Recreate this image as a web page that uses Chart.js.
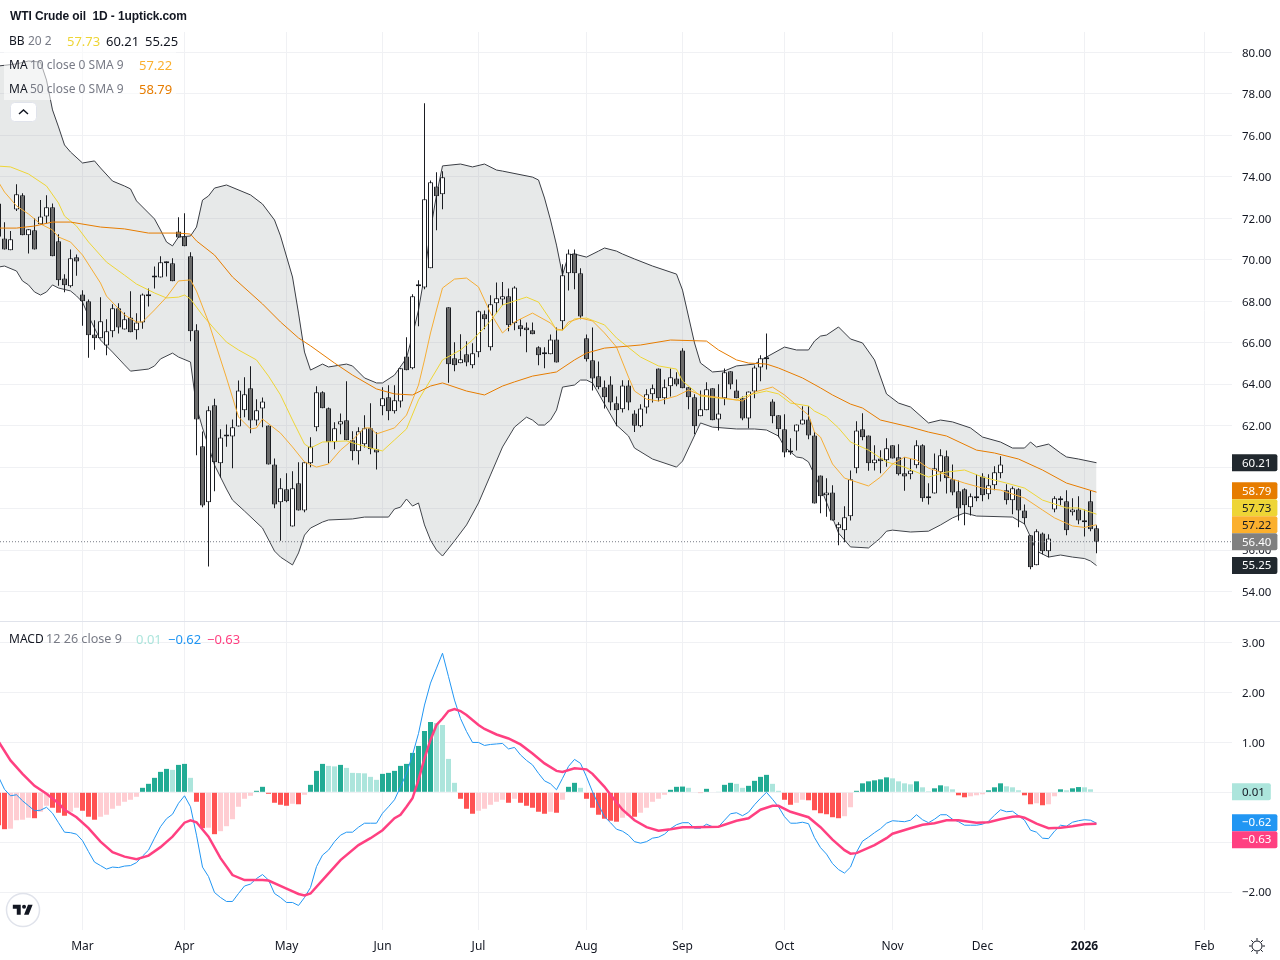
<!DOCTYPE html>
<html>
<head>
<meta charset="utf-8">
<title>WTI Crude oil 1D</title>
<script src="https://cdn.jsdelivr.net/npm/chart.js@4/dist/chart.umd.min.js"></script>
<style>
html,body{margin:0;padding:0;background:#fff;width:1280px;height:960px;overflow:hidden}
body{position:relative;font-family:"Noto Sans",sans-serif;font-size:12px;color:#131722}
canvas{position:absolute;left:0}
.t{position:absolute;white-space:nowrap;line-height:16px}
.g{color:#787b86}
.v{font-size:13px}
</style>
</head>
<body>
<canvas id="priceChart" width="1280" height="621" style="top:0"></canvas>
<canvas id="macdChart" width="1280" height="338" style="top:622px"></canvas>
<div style="position:absolute;left:0;top:621px;width:1280px;height:1px;background:#e0e3eb"></div>
<div style="position:absolute;left:0;top:0;width:1232px;height:32px;background:#fff"></div>
<div style="position:absolute;left:4px;top:32px;width:172px;height:68px;background:rgba(255,255,255,.55)"></div>

<div class="t" style="left:10px;top:8px;font:bold 12px 'Liberation Sans',sans-serif;line-height:16px;letter-spacing:-.1px">WTI Crude oil&nbsp; 1D - 1uptick.com</div>
<div class="t" style="left:9px;top:33px">BB</div><div class="t g" style="left:28px;top:33px">20 2</div>
<div class="t v" style="left:67px;top:33px;color:#eed536">57.73</div><div class="t v" style="left:106px;top:33px">60.21</div><div class="t v" style="left:145px;top:33px">55.25</div>
<div class="t" style="left:9px;top:57px">MA</div><div class="t g" style="left:30px;top:57px">10 close 0 SMA 9</div>
<div class="t v" style="left:139px;top:57px;color:#fbb02e">57.22</div>
<div class="t" style="left:9px;top:81px">MA</div><div class="t g" style="left:30px;top:81px">50 close 0 SMA 9</div>
<div class="t v" style="left:139px;top:81px;color:#e67c00">58.79</div>
<div class="t" style="left:9px;top:631px">MACD</div><div class="t g" style="left:46px;top:631px;font-size:12.6px">12 26 close 9</div>
<div class="t v" style="left:136px;top:631px;color:#ace5dc">0.01</div><div class="t v" style="left:168px;top:631px;color:#2196f3">−0.62</div><div class="t v" style="left:207px;top:631px;color:#ff4081">−0.63</div>

<svg style="position:absolute;left:10px;top:102px" width="28" height="21"><rect x=".5" y=".5" width="26" height="19" rx="4" fill="#fff" stroke="#e0e3eb"/><path d="M9 12l4.5-4 4.5 4" fill="none" stroke="#131722" stroke-width="1.5"/></svg>
<svg style="position:absolute;left:5px;top:892px" width="36" height="36"><circle cx="18" cy="18" r="16.5" fill="#fff" stroke="#e0e3eb" stroke-width="1.5"/><g transform="translate(6.5,11.5) scale(.66)"><path fill="#131722" d="M14 2H2v6h6v9h6V2Zm12 15h-7l6-15h7l-6 15Zm-7-9a3 3 0 1 0 0-6 3 3 0 0 0 0 6Z"/></g></svg>
<svg style="position:absolute;left:1248px;top:937px" width="18" height="18" fill="none" stroke="#131722"><circle cx="9" cy="9" r="5"/><path d="M9 1v2.5M9 14.5V17M1 9h2.5M14.5 9H17M3.3 3.3l1.8 1.8M12.9 12.9l1.8 1.8M3.3 14.7l1.8-1.8M12.9 5.1l1.8-1.8"/></svg>

<script>
// OHLC per trading day
const opens = [72.72,71.03,70.46,72.43,73.11,71.18,71.42,71.71,72.09,72.53,
70.89,69.10,68.72,70.12,68.33,68.00,66.40,66.21,65.87,66.55,
67.66,66.64,67.22,66.60,66.98,68.33,69.15,69.15,69.88,69.83,
71.37,71.13,70.17,66.60,61.00,58.30,62.98,60.18,61.53,61.48,
61.96,62.74,63.80,62.25,62.83,62.01,60.13,58.30,58.93,57.14,
59.22,57.91,60.18,61.92,63.61,62.84,61.20,62.06,62.26,61.29,
60.76,61.10,61.87,60.86,62.93,63.37,62.69,63.17,65.34,64.77,
68.72,68.67,69.59,73.54,73.16,67.71,65.25,65.01,65.44,64.91,
65.54,67.37,65.78,67.90,68.09,68.24,66.94,66.84,66.74,66.60,
65.78,65.49,65.44,66.16,67.03,69.35,70.31,69.35,66.21,65.15,
64.38,63.85,63.99,63.08,62.79,63.94,62.59,61.97,62.88,63.51,
64.76,63.32,63.90,64.28,65.63,63.85,63.37,62.45,62.74,63.80,
62.30,63.32,64.62,63.70,63.32,62.35,63.65,64.81,65.21,63.17,
62.50,61.82,60.72,61.72,62.06,62.30,61.53,59.60,58.64,58.78,
57.05,56.95,57.63,59.94,61.82,61.53,60.18,60.42,60.33,61.05,
60.47,59.70,59.65,60.09,61.05,58.50,58.73,59.75,60.52,59.41,
58.83,58.93,58.06,58.59,59.55,58.69,59.12,59.70,58.88,58.40,
58.93,57.91,56.71,55.26,56.80,55.94,57.96,58.50,58.35,57.82,57.96,57.43,58.35,57.05];
const closes = [71.11,70.50,70.99,73.16,71.18,71.47,70.50,72.09,72.53,70.17,
69.01,68.77,70.07,69.92,68.00,66.36,66.21,67.03,66.55,67.66,
66.74,67.13,66.50,66.98,68.33,68.24,69.17,69.88,69.83,68.96,
71.08,70.65,66.55,62.30,58.15,62.74,60.23,61.43,61.48,61.92,
63.70,63.51,62.25,62.74,63.17,60.13,58.20,58.98,58.35,58.98,
57.91,60.23,60.99,63.61,62.84,61.20,61.87,62.21,61.29,60.76,
61.73,61.87,60.86,60.71,63.32,62.69,63.22,64.77,64.67,68.24,
68.82,72.92,73.74,73.06,73.98,64.96,64.91,65.20,65.05,65.49,
67.52,67.13,67.85,68.14,68.24,66.84,68.67,66.65,66.60,66.41,
65.39,65.44,66.16,65.05,69.25,70.31,69.35,67.27,65.20,64.28,
63.85,63.37,63.12,62.74,63.94,63.12,62.00,62.83,63.51,63.80,
63.32,63.85,64.33,63.99,63.80,63.37,61.97,62.79,63.75,62.26,
62.59,64.57,63.99,63.32,62.35,63.65,64.81,65.25,65.20,62.45,
61.82,60.71,60.71,62.06,62.30,61.53,58.25,58.59,58.78,57.43,
57.24,57.58,59.41,61.77,61.44,60.18,60.37,60.28,60.91,60.42,
59.65,59.55,59.84,61.05,58.50,58.59,59.94,60.57,59.46,58.78,
58.00,58.16,58.59,58.50,58.64,59.12,59.75,60.13,58.40,58.98,
57.91,57.53,55.17,56.90,55.94,56.56,58.50,58.40,56.95,57.96,57.43,57.34,57.00,56.40];
const highs = [72.72,71.81,71.39,73.64,73.21,71.47,72.00,72.88,73.11,72.72,
71.23,69.30,70.50,70.26,68.53,68.09,67.08,68.19,67.13,67.85,
67.90,67.46,68.48,67.42,68.38,68.62,69.68,70.17,69.92,70.07,
72.05,72.24,70.36,66.89,61.72,62.93,63.30,61.82,62.06,62.30,
64.18,64.33,64.86,63.27,63.36,62.01,60.42,59.46,59.70,59.80,
60.23,60.23,61.44,63.90,63.66,62.88,62.16,62.59,64.14,61.73,
61.92,62.50,63.08,61.68,63.85,63.95,63.95,64.77,66.26,68.34,
69.01,77.55,73.83,74.22,74.27,67.71,66.02,66.41,66.07,65.97,
67.56,67.56,68.29,68.91,68.93,68.62,68.72,67.13,66.98,66.98,
65.83,65.78,66.40,66.74,69.78,70.50,70.50,69.59,66.40,66.74,
65.10,64.18,64.38,63.41,64.19,64.19,62.74,63.03,63.75,63.99,
64.76,64.23,64.76,64.57,65.73,63.85,63.51,63.70,64.09,63.80,
64.00,64.76,64.62,64.23,63.41,63.65,64.90,65.39,66.45,63.27,
62.50,62.55,61.39,62.06,62.93,62.93,61.68,59.60,59.46,59.12,
57.34,58.11,59.84,62.21,62.60,61.53,61.05,60.81,61.39,61.05,
61.10,60.47,60.42,61.29,61.10,59.22,60.66,60.86,60.80,60.13,
59.35,58.98,58.73,59.65,59.70,59.65,60.04,60.52,59.17,59.07,
58.98,58.20,56.71,57.00,56.85,56.76,58.59,58.59,58.88,58.50,58.59,57.96,58.88,57.19];
const lows = [71.11,70.50,70.46,72.35,71.18,70.31,70.50,71.71,71.76,70.17,
68.75,68.43,68.67,69.23,66.82,65.28,65.66,66.21,65.39,66.26,
66.45,66.64,66.50,66.16,66.68,67.75,68.62,69.15,69.20,68.96,
71.08,70.65,66.07,60.57,58.06,55.21,58.83,59.50,60.98,59.94,
61.96,62.40,61.63,62.01,61.92,60.13,58.01,56.45,58.30,57.14,
57.91,57.82,59.99,61.73,62.84,60.18,60.86,61.58,61.29,60.33,
60.13,60.94,60.62,59.89,62.50,62.26,62.59,62.88,64.67,64.72,
66.79,68.58,69.59,71.42,72.44,64.07,64.62,65.01,64.86,64.77,
65.30,66.65,65.63,67.42,67.81,66.55,66.60,66.31,65.54,66.41,
64.91,64.77,65.44,65.05,66.60,68.52,68.58,67.13,65.10,63.69,
63.75,62.83,62.74,61.97,62.64,62.74,61.69,61.92,62.59,63.12,
63.17,63.03,63.41,63.90,63.80,62.79,61.58,62.45,62.74,62.26,
61.77,62.98,63.75,63.32,62.26,61.87,63.32,64.14,64.71,62.11,
61.44,60.47,60.60,60.80,62.06,61.34,58.25,57.77,57.60,57.43,
56.23,56.37,57.42,59.70,61.29,59.83,59.84,59.70,60.02,60.42,
59.60,58.86,59.41,59.94,58.33,58.19,58.73,59.31,58.73,58.64,
57.43,57.19,57.67,58.35,58.35,58.45,58.88,59.46,58.20,57.72,
57.10,57.24,55.07,55.26,55.80,55.65,57.82,58.16,56.71,57.67,57.24,56.65,56.90,55.84];

const bbUpper = [[0,79.35],[3,79.45],[5,79.59],[7,79.54],[8,78.67],[9,77.23],[10,76.41],[11,75.54],[12,75.20],[14,74.67],[16,74.77],[17,74.43],[19,73.80],[21,73.56],[22,73.42],[23,72.84],[25,72.26],[26,71.97],[27,71.44],[28,70.86],[29,70.67],[30,71.10],[32,71.15],[33,71.58],[34,72.88],[35,73.08],[36,73.46],[38,73.61],[42,73.13],[44,72.69],[46,71.92],[47,71.15],[49,69.17],[50,67.43],[51,65.55],[52,64.68],[54,64.97],[55,64.83],[58,64.97],[59,64.88],[61,64.30],[63,64.06],[64,64.06],[66,64.44],[68,65.26],[69,66.37],[70,67.58],[71,69.27],[72,71.44],[73,73.13],[74,74.53],[77,74.62],[79,74.48],[81,74.62],[83,74.33],[84,74.28],[89,73.99],[90,73.85],[91,72.98],[92,71.92],[93,70.71],[94,69.27],[95,70.23],[96,70.28],[98,70.13],[100,70.42],[101,70.57],[103,70.42],[104,70.28],[106,70.04],[109,69.70],[113,69.31],[114,68.54],[116,65.99],[117,65.02],[119,64.59],[121,64.64],[123,64.88],[126,64.97],[128,65.31],[131,65.79],[133,65.65],[135,65.65],[136,66.08],[137,66.32],[138,66.37],[140,66.76],[142,66.18],[144,65.99],[146,65.17],[148,63.53],[150,63.09],[152,62.90],[155,62.13],[157,62.27],[159,62.18],[162,61.89],[164,61.45],[167,61.21],[169,60.92],[171,60.92],[172,61.21],[173,60.97],[175,61.11],[177,60.68],[178,60.49],[180,60.39],[183,60.21]];
const bbLower = [[0,69.65],[1,69.70],[3,69.46],[4,68.98],[5,68.79],[6,68.45],[7,68.30],[8,68.45],[9,68.79],[10,68.64],[12,68.50],[13,68.26],[14,67.96],[15,67.29],[17,66.13],[19,65.55],[21,64.93],[22,64.63],[25,64.73],[26,64.88],[27,65.22],[29,65.50],[30,65.31],[32,65.07],[33,62.90],[34,61.89],[35,61.02],[36,60.10],[38,58.94],[39,58.41],[41,57.88],[44,57.06],[46,55.95],[47,55.66],[48,55.47],[49,55.28],[50,55.86],[51,56.72],[52,57.06],[54,57.35],[55,57.45],[59,57.50],[61,57.59],[65,57.59],[66,57.98],[67,58.07],[68,58.46],[69,58.12],[70,58.27],[71,57.21],[72,56.48],[73,56.00],[74,55.71],[76,56.44],[78,57.21],[80,58.27],[82,59.62],[84,60.97],[86,61.93],[88,62.41],[89,62.27],[90,62.03],[91,62.03],[92,62.27],[93,62.75],[94,63.86],[96,63.96],[97,64.20],[98,64.20],[99,64.06],[103,62.03],[105,61.50],[106,60.92],[109,60.39],[113,60.00],[114,60.29],[117,62.13],[119,61.93],[123,61.84],[126,61.84],[128,61.79],[130,61.50],[131,60.97],[133,60.49],[134,60.44],[135,60.25],[136,59.62],[137,59.04],[140,56.82],[142,56.15],[145,56.10],[147,56.58],[148,56.91],[149,56.96],[152,56.87],[155,56.91],[157,57.21],[159,57.55],[161,57.79],[163,57.64],[169,57.59],[171,57.26],[172,56.63],[173,55.95],[175,55.66],[177,55.76],[179,55.66],[181,55.59],[182,55.47],[183,55.25]];
const bbBasis = [[0,74.52],[2,74.48],[5,74.14],[8,73.56],[10,72.74],[11,72.11],[13,71.63],[15,70.86],[18,69.89],[21,69.26],[23,68.83],[26,68.40],[28,68.16],[30,68.20],[31,68.30],[32,68.11],[34,67.33],[36,66.66],[38,66.03],[40,65.65],[43,65.17],[45,64.39],[47,63.48],[49,62.27],[51,61.11],[52,60.92],[54,61.21],[58,61.26],[62,60.92],[64,60.78],[66,61.31],[68,61.84],[70,63.24],[74,65.17],[77,65.65],[79,66.13],[82,67.05],[84,67.82],[88,68.20],[90,67.96],[92,67.10],[93,66.61],[94,66.61],[96,67.15],[98,67.19],[101,66.86],[103,66.23],[107,65.31],[110,64.88],[113,64.73],[114,64.15],[117,63.43],[120,63.33],[123,63.24],[125,63.48],[128,63.67],[130,63.53],[132,63.09],[135,62.95],[136,62.70],[138,62.42],[140,61.89],[142,61.21],[145,60.82],[148,60.25],[151,60.00],[155,59.52],[158,59.76],[161,59.86],[164,59.52],[168,59.23],[171,58.99],[174,58.41],[178,58.03],[180,58.03],[183,57.73]];
const ma10 = [[0,73.75],[1,73.27],[3,72.60],[5,72.21],[7,71.73],[9,71.44],[10,71.10],[12,70.86],[14,70.23],[17,68.88],[18,68.25],[21,67.34],[23,67.00],[24,67.00],[26,67.58],[28,68.20],[30,68.98],[32,69.03],[33,68.49],[35,67.00],[38,64.30],[40,62.42],[42,61.84],[43,61.89],[44,62.32],[47,61.64],[49,60.97],[51,60.25],[53,60.00],[55,60.15],[57,60.82],[59,61.31],[61,61.89],[62,61.89],[63,61.60],[66,61.89],[68,62.51],[70,63.96],[71,65.17],[72,66.47],[73,67.58],[74,68.64],[76,69.07],[78,69.12],[80,68.69],[82,67.43],[84,66.47],[86,67.00],[89,67.43],[92,66.95],[93,66.66],[94,66.61],[95,67.00],[97,67.19],[99,67.05],[101,66.47],[103,65.79],[105,64.34],[106,63.67],[108,63.28],[110,63.19],[113,63.43],[115,63.72],[117,63.48],[122,63.28],[124,63.19],[126,63.62],[129,63.86],[131,63.48],[133,62.99],[135,62.51],[136,61.69],[137,61.45],[139,60.15],[141,59.47],[143,59.28],[145,59.09],[147,59.52],[149,60.15],[151,60.48],[153,60.34],[155,59.95],[157,59.76],[159,59.42],[161,59.23],[164,58.99],[167,58.89],[171,58.51],[174,57.93],[176,57.55],[179,57.16],[181,57.09],[183,57.22]];
const ma50 = [[0,71.53],[3,71.53],[6,71.63],[9,71.82],[12,71.82],[17,71.58],[21,71.49],[25,71.29],[30,71.29],[32,71.24],[33,70.91],[36,70.23],[39,69.17],[44,67.87],[47,67.00],[50,66.23],[52,65.85],[56,65.02],[59,64.44],[63,63.77],[66,63.53],[69,63.48],[72,63.91],[74,64.06],[78,63.67],[81,63.48],[84,63.91],[86,64.11],[89,64.39],[92,64.54],[93,64.59],[96,65.17],[98,65.50],[101,65.74],[107,65.89],[112,66.13],[118,66.08],[120,65.65],[123,65.17],[125,65.02],[128,64.97],[130,64.78],[134,64.30],[137,63.82],[139,63.48],[142,63.04],[144,62.85],[147,62.27],[152,61.93],[155,61.69],[158,61.50],[163,60.82],[166,60.68],[170,60.39],[174,59.86],[178,59.23],[183,58.79]];

// MACD pane
const macdHist = [-0.66,-0.74,-0.73,-0.56,-0.55,-0.51,-0.52,-0.39,-0.27,-0.31,
-0.41,-0.47,-0.39,-0.31,-0.37,-0.49,-0.55,-0.49,-0.45,-0.33,
-0.27,-0.19,-0.15,-0.09,0.09,0.17,0.29,0.41,0.47,0.45,
0.55,0.57,0.29,-0.19,-0.72,-0.71,-0.84,-0.78,-0.68,-0.54,
-0.29,-0.13,-0.07,0.03,0.11,-0.03,-0.21,-0.25,-0.27,-0.23,
-0.24,-0.05,0.15,0.43,0.57,0.53,0.52,0.55,0.49,0.39,
0.385,0.38,0.31,0.25,0.37,0.39,0.43,0.53,0.57,0.79,
0.93,1.23,1.41,1.39,1.35,0.67,0.19,-0.13,-0.33,-0.43,
-0.37,-0.33,-0.25,-0.19,-0.15,-0.21,-0.13,-0.21,-0.27,-0.31,
-0.39,-0.43,-0.39,-0.41,-0.15,0.11,0.19,0.09,-0.13,-0.31,
-0.45,-0.53,-0.57,-0.59,-0.51,-0.47,-0.49,-0.41,-0.31,-0.19,
-0.13,-0.05,0.05,0.11,0.115,0.09,-0.01,-0.015,0.07,0.01,
0.005,0.15,0.19,0.17,0.09,0.13,0.23,0.31,0.35,0.17,
0.03,-0.15,-0.25,-0.21,-0.15,-0.16,-0.36,-0.42,-0.44,-0.50,
-0.52,-0.48,-0.30,0.03,0.18,0.22,0.24,0.26,0.30,0.28,
0.22,0.18,0.16,0.22,0.10,0.02,0.08,0.14,0.12,0.06,
-0.06,-0.10,-0.08,-0.06,-0.04,0.04,0.10,0.18,0.12,0.10,
0.04,-0.06,-0.24,-0.22,-0.26,-0.24,-0.08,0.06,0.04,0.08,0.105,0.10,0.06,0.01];
const macdLine = [0.31,0.06,-0.07,-0.05,-0.17,-0.27,-0.37,-0.36,-0.30,-0.42,
-0.61,-0.80,-0.81,-0.84,-0.97,-1.19,-1.40,-1.47,-1.54,-1.50,
-1.51,-1.48,-1.47,-1.41,-1.28,-1.16,-0.92,-0.69,-0.53,-0.44,
-0.22,-0.07,-0.29,-0.86,-1.50,-1.69,-2.01,-2.11,-2.19,-2.19,
-2.03,-1.88,-1.84,-1.73,-1.65,-1.76,-2.03,-2.11,-2.21,-2.21,
-2.27,-2.11,-1.91,-1.49,-1.26,-1.16,-0.99,-0.86,-0.80,-0.80,
-0.70,-0.62,-0.62,-0.62,-0.42,-0.29,-0.15,0.11,0.38,0.75,
1.18,1.75,2.19,2.49,2.79,2.32,1.85,1.48,1.22,1.00,
1.00,0.94,0.96,0.97,0.98,0.87,0.90,0.75,0.64,0.55,
0.38,0.23,0.17,0.05,0.28,0.52,0.66,0.58,0.31,0.01,
-0.25,-0.49,-0.61,-0.74,-0.78,-0.86,-0.99,-1.02,-0.99,-0.92,
-0.90,-0.84,-0.73,-0.65,-0.61,-0.61,-0.72,-0.72,-0.64,-0.69,
-0.69,-0.56,-0.43,-0.41,-0.47,-0.40,-0.25,-0.12,0.00,-0.14,
-0.29,-0.49,-0.62,-0.62,-0.60,-0.63,-0.91,-1.11,-1.24,-1.43,
-1.55,-1.62,-1.50,-1.20,-0.98,-0.90,-0.81,-0.73,-0.62,-0.57,
-0.58,-0.59,-0.56,-0.45,-0.55,-0.61,-0.54,-0.45,-0.45,-0.54,
-0.59,-0.66,-0.66,-0.66,-0.64,-0.58,-0.46,-0.35,-0.39,-0.38,
-0.47,-0.56,-0.76,-0.80,-0.92,-0.93,-0.78,-0.66,-0.68,-0.60,-0.57,-0.55,-0.56,-0.62];
const macdSignal = [[0,1.02],[2,0.64],[4,0.37],[6,0.13],[8,-0.03],[10,-0.22],[11,-0.35],[13,-0.50],[15,-0.72],[17,-0.99],[19,-1.20],[21,-1.29],[23,-1.34],[25,-1.27],[27,-1.10],[29,-0.89],[31,-0.61],[32,-0.56],[33,-0.60],[35,-0.89],[37,-1.32],[39,-1.66],[41,-1.76],[44,-1.76],[45,-1.77],[48,-1.93],[50,-2.04],[51,-2.07],[52,-2.03],[54,-1.76],[57,-1.36],[60,-1.06],[62,-0.92],[64,-0.76],[66,-0.52],[67,-0.45],[68,-0.29],[69,-0.12],[70,0.25],[71,0.68],[72,1.05],[73,1.35],[74,1.48],[75,1.63],[76,1.67],[77,1.63],[78,1.55],[80,1.35],[81,1.27],[83,1.16],[85,1.08],[87,0.96],[89,0.78],[91,0.58],[93,0.43],[94,0.41],[96,0.48],[98,0.46],[99,0.37],[101,0.11],[102,-0.05],[104,-0.35],[106,-0.56],[108,-0.70],[110,-0.77],[112,-0.74],[114,-0.70],[116,-0.70],[120,-0.69],[123,-0.57],[125,-0.52],[127,-0.35],[129,-0.27],[130,-0.27],[132,-0.39],[135,-0.50],[137,-0.70],[139,-0.95],[141,-1.16],[142,-1.23],[143,-1.22],[146,-1.06],[148,-0.92],[149,-0.83],[152,-0.72],[154,-0.65],[156,-0.62],[158,-0.56],[160,-0.56],[163,-0.61],[165,-0.60],[167,-0.54],[169,-0.49],[170,-0.48],[171,-0.51],[173,-0.63],[175,-0.72],[177,-0.71],[179,-0.68],[181,-0.64],[183,-0.63]];

// Axis ticks
const monthBars = [14,31,48,64,80,98,114,131,149,164,181,201];
const monthLabels = ['Mar','Apr','May','Jun','Jul','Aug','Sep','Oct','Nov','Dec','2026','Feb'];
const priceTicks = [54,56,58,60,62,64,66,68,70,72,74,76,78,80];
const macdTicks = [-2,-1,0,1,2,3];
const lastClose = 56.40;

// Right-hand value tags: [text, anchor on the scale, background, text colour]
const priceTags = [['60.21',60.21,'#21282e','#fff'],['58.79',58.86,'#e67c00','#fff'],['57.73',58.04,'#eed536','#131722'],['57.22',57.22,'#fbb02e','#131722'],['56.40',56.40,'#808080','#fff'],['55.25',55.25,'#21282e','#fff']];
const macdTags = [['0.01',0.01,'#ace5dc','#131722'],['−0.62',-0.61,'#2196f3','#fff'],['−0.63',-0.95,'#ff4081','#fff']];

const font = '"Noto Sans", sans-serif';
const gridColor = '#f0f1f4';
const xMin = 0.25, xMax = 205.583;

const pairsToXY = pts => pts.map(p => ({x: p[0], y: p[1]}));
const valuesToXY = vals => vals.map((v, i) => ({x: i, y: v}));
const fmt = v => (v < 0 ? '−' : '') + Math.abs(v).toFixed(2);

function tagPlugin(tags){
  return {
    id: 'valueTags',
    afterDraw(chart){
      const c = chart.ctx, y = chart.scales.y, left = chart.chartArea.right;
      c.save();
      c.font = '11.5px ' + font;
      c.textBaseline = 'middle';
      tags.forEach(t => {
        const py = y.getPixelForValue(t[1]);
        const w = 16 + c.measureText(t[0]).width;
        c.fillStyle = t[2];
        c.beginPath();
        c.roundRect(left, py - 8.5, w, 17, [0, 2, 2, 0]);
        c.fill();
        c.fillStyle = t[3];
        c.textAlign = 'left';
        c.fillText(t[0], left + 10, py + 0.5);
      });
      c.restore();
    }
  };
}

function lineSet(data, color, width, order){
  return {type: 'line', data, borderColor: color, borderWidth: width, pointRadius: 0, tension: 0, fill: false, order};
}

function xAxis(showLabels){
  return {
    type: 'linear', min: xMin, max: xMax, offset: false,
    afterBuildTicks(s){ s.ticks = monthBars.map(v => ({value: v})); },
    afterFit(s){ s.height = showLabels ? 30 : 0; s.paddingLeft = 0; s.paddingRight = 0; },
    grid: {color: gridColor, drawTicks: false, offset: false},
    border: {display: false},
    ticks: {
      display: showLabels, autoSkip: false, maxRotation: 0, padding: 9, color: '#131722',
      callback: (v, i) => monthLabels[i],
      font: c => ({family: font, size: 12, weight: monthLabels[c.index] === '2026' ? 'bold' : 'normal'})
    }
  };
}

function yAxis(min, max, list){
  return {
    type: 'linear', position: 'right', min, max,
    afterBuildTicks(s){ s.ticks = list.map(v => ({value: v})); },
    afterFit(s){ s.width = 48; s.paddingTop = 0; s.paddingBottom = 0; },
    grid: {color: gridColor, drawTicks: false},
    border: {display: false},
    ticks: {padding: 10, labelOffset: 1, color: '#131722', font: {family: font, size: 11.5}, callback: v => fmt(v)}
  };
}

const baseOptions = {
  responsive: false, animation: false, devicePixelRatio: 1,
  layout: {padding: 0},
  plugins: {legend: {display: false}, tooltip: {enabled: false}}
};

// Price pane
new Chart(document.getElementById('priceChart').getContext('2d'), {
  type: 'bar',
  data: {datasets: [
    Object.assign(lineSet(pairsToXY(bbUpper), '#3a3d44', 1, 20), {fill: '+1', backgroundColor: 'rgba(128,140,140,0.19)'}),
    lineSet(pairsToXY(bbLower), '#3a3d44', 1, 20),
    {data: highs.map((h, i) => ({x: i, y: [lows[i], h]})), grouped: false, barThickness: 1, inflateAmount: 0, backgroundColor: '#1b1d22', order: 10},
    {data: opens.map((o, i) => ({x: i, y: [o, closes[i]]})), grouped: false, barThickness: 5, minBarLength: 2, inflateAmount: 0, borderSkipped: false, borderWidth: 1, borderColor: '#1b1d22',
      backgroundColor: opens.map((o, i) => closes[i] >= o ? '#ffffff' : '#6b6b6b'), order: 9},
    lineSet(pairsToXY(bbBasis), '#eed536', 1, 8),
    lineSet(pairsToXY(ma10), '#f5ad35', 1, 7),
    lineSet(pairsToXY(ma50), '#e67c00', 1, 6),
    Object.assign(lineSet([{x: xMin, y: lastClose}, {x: xMax, y: lastClose}], '#787b86', 1, 5), {borderDash: [1, 2]})
  ]},
  options: Object.assign({}, baseOptions, {
    scales: {x: xAxis(false), y: yAxis(52.576, 82.533, priceTicks)}
  }),
  plugins: [tagPlugin(priceTags)]
});

// MACD pane
new Chart(document.getElementById('macdChart').getContext('2d'), {
  type: 'bar',
  data: {datasets: [
    {data: valuesToXY(macdHist), grouped: false, barThickness: 5, inflateAmount: 0, borderWidth: 0, order: 10,
      backgroundColor: macdHist.map((v, i) => {
        const rising = i === 0 ? false : v > macdHist[i - 1];
        if (v >= 0) return rising ? '#22ab94' : '#ace5dc';
        return rising ? '#ffcdd2' : '#ff5252';
      })},
    lineSet(valuesToXY(macdLine), '#2196f3', 1, 9),
    lineSet(pairsToXY(macdSignal), '#ff4081', 2.5, 8)
  ]},
  options: Object.assign({}, baseOptions, {
    scales: {x: xAxis(true), y: yAxis(-2.762, 3.416, macdTicks)}
  }),
  plugins: [tagPlugin(macdTags)]
});
</script>
</body>
</html>
